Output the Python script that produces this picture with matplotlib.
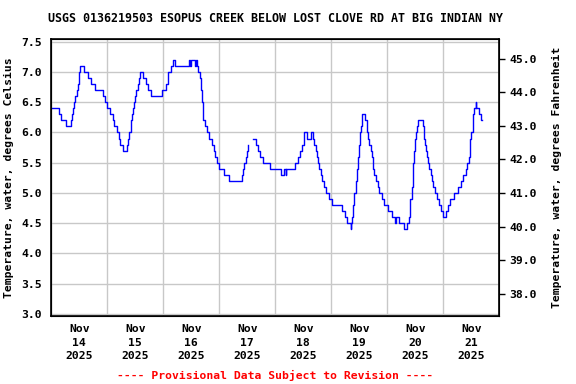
import matplotlib
matplotlib.use("Agg")
import matplotlib.pyplot as plt
import numpy as np

# hours since 2025-11-14 00:00, water temperature in deg C (step data)
seg1_hours = [0, 3.4, 4.0, 6.3, 8.4, 9.0, 9.4, 9.8, 10.3, 10.8, 11.3, 11.7, 12.0, 12.4,
              14.1, 15.9, 17.0, 18.9, 22.0, 23.0, 23.7, 25.3, 26.3, 27.0, 28.0, 28.9,
              29.4, 30.9, 32.3, 33.0, 33.5, 34.0, 34.4, 34.8, 35.3, 35.9, 36.5, 37.3,
              37.6, 37.9, 39.5, 40.6, 41.6, 42.8, 47.3, 49.0, 49.8, 50.2, 51.2, 52.3,
              53.0, 58.8, 59.5, 60.0, 61.7, 62.0, 62.5, 63.0, 63.8, 64.2, 64.5, 64.8,
              65.0, 65.2, 65.9, 66.6, 67.6, 68.8, 69.6, 70.2, 71.1, 71.9, 74.2, 76.2,
              81.6, 82.0, 82.6, 83.3, 83.8, 84.5]
seg1_temps = [6.4, 6.3, 6.2, 6.1, 6.2, 6.3, 6.4, 6.5, 6.6, 6.7, 6.8, 6.9, 7.0, 7.1,
              7.0, 6.9, 6.8, 6.7, 6.6, 6.5, 6.4, 6.3, 6.2, 6.1, 6.0, 5.9,
              5.8, 5.7, 5.8, 5.9, 6.0, 6.2, 6.3, 6.4, 6.5, 6.6, 6.7, 6.8,
              6.9, 7.0, 6.9, 6.8, 6.7, 6.6, 6.7, 6.8, 6.9, 7.0, 7.1, 7.2,
              7.1, 7.2, 7.1, 7.2, 7.1, 7.2, 7.1, 7.0, 6.9, 6.7, 6.5, 6.4,
              6.3, 6.2, 6.1, 6.0, 5.9, 5.8, 5.7, 5.6, 5.5, 5.4, 5.3, 5.2,
              5.3, 5.4, 5.5, 5.6, 5.7, 5.8]

seg2_hours = [86.6, 87.6, 88.5, 89.5, 90.9, 93.8, 98.5, 99.9, 100.5, 100.8, 104.5, 105.6,
              106.6, 107.4, 108.1, 108.5, 109.5, 111.4, 112.1, 112.6, 113.3, 113.8, 114.2,
              114.8, 115.5, 116.2, 116.9, 117.8, 119.0, 120.2, 124.8, 125.9, 126.9, 128.3,
              128.6, 129.0, 129.5, 129.9, 130.4, 130.9, 131.3, 131.8, 132.3, 132.8, 133.2,
              134.5, 135.3, 135.9, 136.3, 136.9, 137.3, 138.0, 138.5, 139.2, 139.9, 140.6,
              141.6, 142.6, 144.5, 145.9, 147.5, 147.8, 149.2, 151.3, 152.3, 153.3, 153.6,
              153.9, 154.4, 154.9, 155.2, 155.6, 156.0, 156.5, 156.9, 157.2, 159.2, 159.7,
              160.1, 160.5, 160.9, 161.3, 161.9, 162.6, 163.0, 163.7, 164.5, 165.3, 166.1,
              167.0, 168.0, 169.0, 169.9, 170.9, 172.7, 174.5, 175.6, 176.6, 177.6, 178.2,
              179.0, 179.3, 179.6, 180.0, 180.6, 180.9, 181.3, 181.9, 182.2, 183.3, 184.1,
              184.8]
seg2_temps = [5.9, 5.8, 5.7, 5.6, 5.5, 5.4, 5.3, 5.4, 5.3, 5.4, 5.5, 5.6,
              5.7, 5.8, 5.9, 6.0, 5.9, 6.0, 5.9, 5.8, 5.7, 5.6, 5.5,
              5.4, 5.3, 5.2, 5.1, 5.0, 4.9, 4.8, 4.7, 4.6, 4.5, 4.4,
              4.5, 4.6, 4.8, 5.0, 5.2, 5.4, 5.6, 5.8, 6.0, 6.1, 6.3,
              6.2, 6.0, 5.9, 5.8, 5.7, 5.6, 5.4, 5.3, 5.2, 5.1, 5.0,
              4.9, 4.8, 4.7, 4.6, 4.5, 4.6, 4.5, 4.4, 4.5, 4.6, 4.7,
              4.9, 5.1, 5.3, 5.5, 5.7, 5.9, 6.0, 6.1, 6.2, 6.1, 5.9,
              5.8, 5.7, 5.6, 5.5, 5.4, 5.3, 5.2, 5.1, 5.0, 4.9, 4.8,
              4.7, 4.6, 4.7, 4.8, 4.9, 5.0, 5.1, 5.2, 5.3, 5.4, 5.5,
              5.6, 5.8, 5.9, 6.0, 6.1, 6.3, 6.4, 6.5, 6.4, 6.3, 6.2,
              6.2]

day_labels = ["Nov\n14\n2025", "Nov\n15\n2025", "Nov\n16\n2025", "Nov\n17\n2025",
              "Nov\n18\n2025", "Nov\n19\n2025", "Nov\n20\n2025", "Nov\n21\n2025"]
c_ticks = [3.0, 3.5, 4.0, 4.5, 5.0, 5.5, 6.0, 6.5, 7.0, 7.5]
f_ticks = [38.0, 39.0, 40.0, 41.0, 42.0, 43.0, 44.0, 45.0]

title = "USGS 0136219503 ESOPUS CREEK BELOW LOST CLOVE RD AT BIG INDIAN NY"

mono = dict(family="DejaVu Sans Mono", weight="bold", size=8.2)
mono_t = dict(mono, size=8.35)

fig = plt.figure(figsize=(5.76, 3.84), dpi=100)
ax = fig.add_axes([0.0891, 0.1771, 0.7777, 0.7213])

ax.plot(seg1_hours, seg1_temps, drawstyle="steps-post", color="#0000ff", lw=1.0)
ax.plot(seg2_hours, seg2_temps, drawstyle="steps-post", color="#0000ff", lw=1.0)

ylo, yhi = 2.967, 7.545
ax.set_xlim(0, 192)
ax.set_ylim(ylo, yhi)

ax.set_xticks(np.arange(0, 193, 24))
ax.set_xticklabels([])
ax.set_xticks(np.arange(12, 192, 24), minor=True)
ax.set_xticklabels(day_labels, minor=True, fontdict=mono, linespacing=1.4)
ax.tick_params(axis="x", which="both", length=0, pad=6)
ax.set_yticks(c_ticks)
ax.set_yticklabels([f"{v:.1f}" for v in c_ticks], fontdict=mono)
ax.tick_params(axis="y", length=0, pad=7)
ax.grid(True, color="#c8c8c8", lw=1.0)
ax.set_axisbelow(True)
for s in ax.spines.values():
    s.set_linewidth(1.2)

ax.set_ylabel("Temperature, water, degrees Celsius", fontdict=mono, labelpad=5)

ax2 = ax.twinx()
ax2.set_ylim(ylo * 9 / 5 + 32, yhi * 9 / 5 + 32)
ax2.set_yticks(f_ticks)
ax2.set_yticklabels([f"{v:.1f}" for v in f_ticks], fontdict=mono)
ax2.tick_params(axis="y", length=4, width=1, pad=3)
ax2.set_ylabel("Temperature, water, degrees Fahrenheit", fontdict=mono, labelpad=11)

fig.text(0.479, 0.952, title, ha="center", va="center", **mono_t)
fig.text(0.477, 0.023, "---- Provisional Data Subject to Revision ----",
         ha="center", va="center", color="red", **mono)

fig.savefig("out.png", dpi=100)
